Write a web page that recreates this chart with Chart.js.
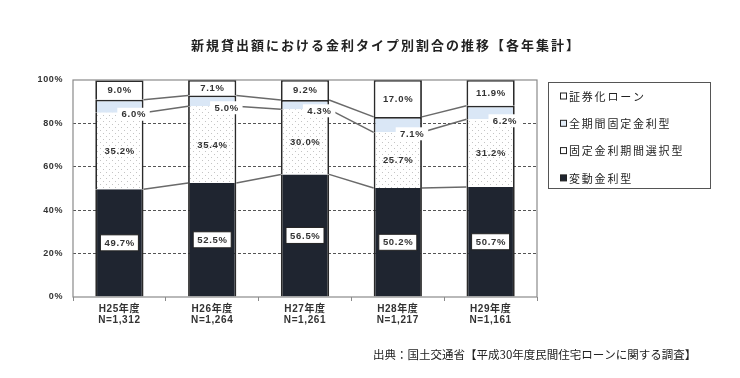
<!DOCTYPE html>
<html lang="ja">
<head>
<meta charset="utf-8">
<script src="https://cdn.jsdelivr.net/npm/chart.js@4.4.1/dist/chart.umd.min.js"></script>
<style>
  body { margin: 0; background: #fff; }
  canvas { display: block; }
</style>
</head>
<body>
<canvas id="rateChart" width="740" height="378"></canvas>
<script>
// --- data ---
const years = ['H25年度', 'H26年度', 'H27年度', 'H28年度', 'H29年度'];
const sampleSizes = ['N=1,312', 'N=1,264', 'N=1,261', 'N=1,217', 'N=1,161'];
const variableRate = [49.7, 52.5, 56.5, 50.2, 50.7];
const fixedPeriodSelect = [35.2, 35.4, 30.0, 25.7, 31.2];
const fullTermFixed = [6.0, 5.0, 4.3, 7.1, 6.2];
const securitized = [9.0, 7.1, 9.2, 17.0, 11.9];
const seriesNames = ['変動金利型', '固定金利期間選択型', '全期間固定金利型', '証券化ローン'];

const titleText = '新規貸出額における金利タイプ別割合の推移【各年集計】';
const sourceText = '出典：国土交通省【平成30年度民間住宅ローンに関する調査】';

const latin = '"Liberation Sans", "Noto Sans CJK JP", sans-serif';
const jp = '"Noto Sans CJK JP", "Liberation Sans", sans-serif';

// dotted fill for the 固定金利期間選択型 segments
function dotPattern() {
  const c = document.createElement('canvas');
  c.width = 6;
  c.height = 6;
  const g = c.getContext('2d');
  g.fillStyle = '#ffffff';
  g.fillRect(0, 0, 6, 6);
  g.fillStyle = '#c4c4c4';
  g.fillRect(1, 1, 1, 1);
  g.fillRect(4, 4, 1, 1);
  return g.createPattern(c, 'repeat');
}

const ctx = document.getElementById('rateChart').getContext('2d');

const sides = { top: 0, bottom: 0, left: 1.8, right: 1.8 };
const sidesTop = { top: 1.8, bottom: 0, left: 1.8, right: 1.8 };

// series lines, value labels, frame, legend, title and source
const overlayPlugin = {
  id: 'overlay',
  beforeDraw(chart) {
    // slightly wider tick text, like the original
    chart.ctx.letterSpacing = '0.6px';
  },
  afterDatasetsDraw(chart) {
    const c = chart.ctx;
    const n = years.length;

    // series lines between bars
    c.save();
    c.strokeStyle = '#6a6a6a';
    c.lineWidth = 1.5;
    for (let k = 0; k < 3; k++) {
      const meta = chart.getDatasetMeta(k);
      for (let i = 0; i < n - 1; i++) {
        const a = meta.data[i];
        const b = meta.data[i + 1];
        c.beginPath();
        c.moveTo(a.x + a.width / 2, a.y);
        c.lineTo(b.x - b.width / 2, b.y);
        c.stroke();
      }
    }
    c.restore();

    // value labels
    c.save();
    c.textAlign = 'center';
    c.textBaseline = 'middle';
    c.font = 'bold 9.5px ' + latin;
    c.letterSpacing = '0.7px';
    chart.data.datasets.forEach((ds, k) => {
      const meta = chart.getDatasetMeta(k);
      meta.data.forEach((bar, i) => {
        const txt = ds.data[i].toFixed(1) + '%';
        const w = c.measureText(txt).width;
        let x = bar.x;
        let y = (bar.y + bar.base) / 2;
        if (k === 0) {
          c.fillStyle = '#fff';
          c.fillRect(x - 19, y - 8, 38, 16);
          c.strokeStyle = '#222';
          c.lineWidth = 1;
          c.strokeRect(x - 19, y - 8, 38, 16);
        } else if (k === 2) {
          x = bar.x + bar.width / 2 - 10;
          y = bar.base + 1.5;
          c.fillStyle = '#fff';
          c.fillRect(x - w / 2 - 4, y - 6.5, w + 8, 13);
        }
        c.fillStyle = '#333';
        c.fillText(txt, x + 0.3, y + 0.5);
      });
    });
    c.restore();
  },
  afterDraw(chart) {
    const c = chart.ctx;
    const area = chart.chartArea;

    // plot frame
    c.save();
    c.strokeStyle = '#8a8a8a';
    c.lineWidth = 1.2;
    c.strokeRect(area.left, area.top, area.right - area.left, area.bottom - area.top);

    // title
    c.fillStyle = '#222';
    c.textAlign = 'center';
    c.textBaseline = 'middle';
    c.font = 'bold 13px ' + jp;
    c.letterSpacing = '2px';
    c.fillText(titleText, 386, 45);

    // source
    c.textAlign = 'left';
    c.font = '11.5px ' + jp;
    c.letterSpacing = '0px';
    c.fillText(sourceText, 373, 355);

    // legend box
    c.strokeStyle = '#555';
    c.lineWidth = 1;
    c.strokeRect(548.5, 82.5, 162, 106);
    c.font = '11px ' + jp;
    c.letterSpacing = '1.8px';
    const order = [3, 2, 1, 0];
    order.forEach((k, j) => {
      const y = 96 + j * 27.3;
      const ds = chart.data.datasets[k];
      c.fillStyle = k === 0 ? '#1f2530' : (k === 2 ? '#e3edf8' : '#fff');
      c.fillRect(560.5, y - 3, 6, 6);
      c.strokeStyle = '#222';
      c.strokeRect(560.5, y - 3, 6, 6);
      c.fillStyle = '#222';
      c.fillText(ds.label, 569, y + 0.5);
    });
    c.restore();
  },
};

new Chart(ctx, {
  type: 'bar',
  data: {
    labels: years.map((y, i) => [y, sampleSizes[i]]),
    datasets: [
      {
        label: seriesNames[0],
        data: variableRate,
        backgroundColor: '#1f2530',
        borderColor: '#2a2a2a',
        borderWidth: sides,
      },
      {
        label: seriesNames[1],
        data: fixedPeriodSelect,
        backgroundColor: dotPattern(),
        borderColor: '#2a2a2a',
        borderWidth: sides,
      },
      {
        label: seriesNames[2],
        data: fullTermFixed,
        backgroundColor: '#dae7f6',
        borderColor: '#2a2a2a',
        borderWidth: sidesTop,
      },
      {
        label: seriesNames[3],
        data: securitized,
        backgroundColor: '#ffffff',
        borderColor: '#2a2a2a',
        borderWidth: sidesTop,
      },
    ],
  },
  options: {
    responsive: false,
    animation: false,
    layout: { padding: { top: 80, right: 203, bottom: 31, left: 0 } },
    plugins: {
      legend: { display: false },
      tooltip: { enabled: false },
      title: { display: false },
    },
    datasets: {
      bar: { categoryPercentage: 1, barPercentage: 0.52, borderSkipped: false },
    },
    scales: {
      x: {
        stacked: true,
        afterFit: (scale) => { scale.height = 50; },
        grid: {
          offset: true,
          drawOnChartArea: false,
          drawTicks: true,
          tickLength: 4,
          color: '#8a8a8a',
        },
        border: { display: false },
        ticks: {
          color: '#333',
          padding: 3,
          maxRotation: 0,
          font: { family: latin, size: 10, weight: 'bold', lineHeight: 1.1 },
        },
      },
      y: {
        stacked: true,
        min: 0,
        max: 100,
        afterFit: (scale) => { scale.width = 73; },
        ticks: {
          stepSize: 20,
          padding: 10,
          color: '#333',
          font: { family: latin, size: 9, weight: 'bold' },
          callback: (v) => v + '%',
        },
        grid: {
          drawTicks: false,
          lineWidth: 1,
          color: (c) => (c.tick && c.tick.value > 0 && c.tick.value < 100 ? '#555' : 'transparent'),
        },
        border: { display: false, dash: [3, 2] },
      },
    },
  },
  plugins: [overlayPlugin],
});
</script>
</body>
</html>
